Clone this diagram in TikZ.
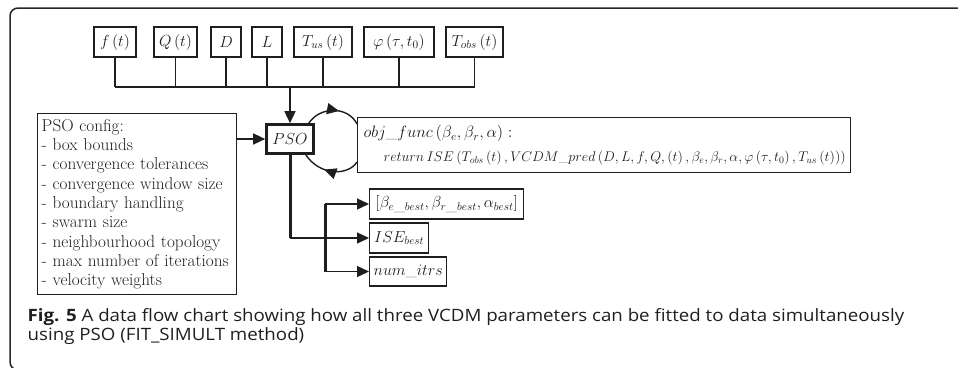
\documentclass[tikz,border=0pt]{standalone}
\usepackage{fix-cm}
\usepackage{fontspec}
\usepackage{graphicx}
\newfontfamily\capfont{Open Sans}
\usetikzlibrary{arrows.meta,decorations.markings,calc}
\newcommand\msz{\fontsize{16}{19.3}\selectfont}
\newcommand\csz{\fontsize{17.2}{19.3}\selectfont}
\definecolor{ink}{HTML}{1E1E1E}
\begin{document}
\begin{tikzpicture}[x=1pt,y=-1pt,line width=1.4pt,ink,
  inbox/.style={draw,minimum height=30pt,inner sep=0pt,font=\msz,text=ink},
  arr/.style={-{Triangle[length=12pt,width=11pt]}},
  midarr/.style={postaction={decorate},decoration={markings,mark=at position #1 with {\arrow{Triangle[length=12pt,width=11pt]}}}},
  thick line/.style={line width=3pt}]
\useasboundingbox (0,0) rectangle (958,367);
% frame
\draw[line width=1.5pt,black!85,rounded corners=8pt] (965,8) -- (10,8) -- (10,370) -- (40,370);
% top inputs
\node[inbox,minimum width=42pt] (f) at (115,42) {$f\left(t\right)$};
\node[inbox,minimum width=43pt] (Q) at (175.5,42) {$Q\left(t\right)$};
\node[inbox,minimum width=30pt] (D) at (226,42) {$D$};
\node[inbox,minimum width=30pt] (L) at (267,42) {$L$};
\node[inbox,minimum width=58pt] (Tus) at (323,42) {$T_{us}\left(t\right)$};
\node[inbox,minimum width=70pt] (phi) at (399,42) {$\varphi\left(\tau,t_0\right)$};
\node[inbox,minimum width=57pt] (Tobs) at (474.5,42) {$T_{obs}\left(t\right)$};
\coordinate (bus) at (290,87);
\draw (f.south |- bus) -- (Tobs.south |- bus);
\foreach \n in {f,Q,D,L,Tus,phi,Tobs} \draw (\n.south) -- (\n.south |- bus);
% PSO
\node[inbox,minimum width=47pt,minimum height=29pt,line width=2.6pt] (pso) at (290,139) {$PSO$};
\draw[arr] (bus) -- (pso.north);
% config
\node[draw,anchor=north west,text width=191pt,inner xsep=4pt,inner ysep=0pt,minimum height=181pt,align=left,font=\csz,text=ink] (cfg) at (37,113)
 {PSO config:\\- box bounds\\- convergence tolerances\\- convergence window size\\- boundary handling\\- swarm size\\- neighbourhood topology\\- max number of iterations\\- velocity weights};
\draw[arr] (pso.west -| cfg.east) -- (pso.west);
% objective
\node[draw,anchor=north west,text width=481pt,inner xsep=6pt,inner ysep=0pt,minimum height=55pt,align=left,font=\fontsize{16.5}{24}\selectfont,text=ink] (obj) at (357,117)
 {$obj\_func\left(\beta_e,\beta_r,\alpha\right):$\\
  \hspace*{20pt}\resizebox{462pt}{!}{$return\,ISE\left(T_{obs}\left(t\right),VCDM\_pred\left(D,L,f,Q,\left(t\right),\beta_e,\beta_r,\alpha,\varphi\left(\tau,t_0\right),T_{us}\left(t\right)\right)\right)$}};
\draw[midarr=0.6] ($(pso.north east)+(-6,0)$) .. controls (320,106) and (348,106) .. (obj.west |- 0,124);
\draw[midarr=0.6] (obj.west |- 0,162) .. controls (348,176) and (320,176) .. ($(pso.south east)+(-9,0)$);
% outputs
\node[inbox,anchor=west,minimum width=154pt] (b1) at (369,204) {$\left[\beta_{e\_best},\beta_{r\_best},\alpha_{best}\right]$};
\node[inbox,anchor=west,minimum width=59pt] (b2) at (369,238) {$ISE_{best}$};
\node[inbox,anchor=west,minimum width=77pt,minimum height=29pt] (b3) at (369,271.5) {$num\_itrs$};
\coordinate (J) at (325,0);
\draw[thick line] (pso.south) -- (pso.south |- b2.west);
\draw (pso.south |- b2.west) -- (J |- b2.west);
\draw[thick line] (J |- b1.west) -- (J |- b3.west);
\foreach \b in {b1,b2,b3} \draw[arr] (J |- \b.west) -- (\b.west);
% caption
\node[anchor=base west,inner sep=0pt,align=left,font=\capfont\fontsize{17}{19}\selectfont,text=black!88] (cap) at (27,340)
 {\scalebox{1.1}[1]{\textbf{Fig. 5} A data flow chart showing how all three VCDM parameters can be fitted to data simultaneously}\\
  \scalebox{1.1}[1]{using PSO (FIT\_SIMULT method)}};
\end{tikzpicture}
\end{document}
